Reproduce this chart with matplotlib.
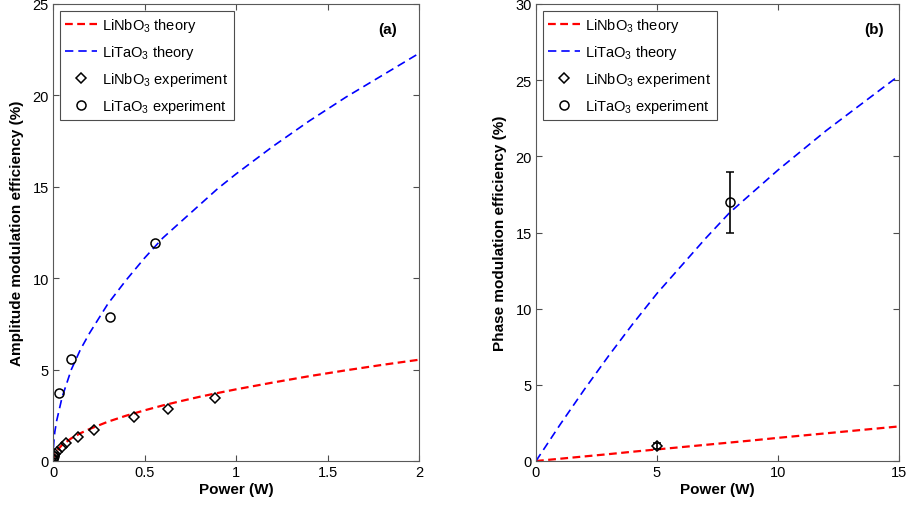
import numpy as np
import matplotlib
matplotlib.use('Agg')
import matplotlib.pyplot as plt

plt.rcParams['font.family'] = ['Liberation Sans', 'DejaVu Sans']
plt.rcParams['mathtext.default'] = 'regular'
plt.rcParams['font.size'] = 10

# (a) amplitude modulation - theory curves
amp_power = [0, 0.001, 0.005, 0.01, 0.02, 0.05, 0.1, 0.15, 0.2, 0.3, 0.4, 0.5, 0.6, 0.7,
             0.8, 0.9, 1.0, 1.2, 1.4, 1.6, 1.8, 2.0]
amp_linbo3 = [0, 0.12, 0.28, 0.39, 0.55, 0.88, 1.24, 1.52, 1.75, 2.15, 2.48, 2.77, 3.04, 3.28,
              3.51, 3.72, 3.92, 4.29, 4.64, 4.96, 5.26, 5.54]
amp_litao3 = [0, 0.5, 1.1, 1.6, 2.2, 3.5, 5.0, 6.1, 7.0, 8.6, 9.9, 11.1, 12.2, 13.1,
              14.0, 14.9, 15.7, 17.2, 18.6, 19.9, 21.1, 22.3]

# (a) experiment
amp_exp_nb_p = [0.002, 0.006, 0.012, 0.020, 0.047, 0.071, 0.138, 0.224, 0.443, 0.627, 0.885]
amp_exp_nb_v = [0.1, 0.25, 0.4, 0.48, 0.75, 0.97, 1.33, 1.70, 2.39, 2.84, 3.47]
amp_exp_ta_p = [0.001, 0.003, 0.033, 0.098, 0.31, 0.557]
amp_exp_ta_v = [0.1, 0.25, 3.7, 5.6, 7.9, 11.9]

# (b) phase modulation - theory curves
ph_power = [0, 1, 2, 3, 4, 5, 6, 7, 8, 9, 10, 11, 12, 13, 14, 15]
ph_linbo3 = [0, 0.15, 0.30, 0.45, 0.61, 0.76, 0.91, 1.06, 1.21, 1.36, 1.52, 1.67, 1.82, 1.97, 2.12, 2.27]
ph_litao3 = [0, 2.4, 4.7, 6.9, 9.0, 11.0, 12.8, 14.6, 16.3, 17.7, 19.1, 20.4, 21.7, 22.9, 24.1, 25.3]

# (b) experiment
ph_exp_nb_p = [5]
ph_exp_nb_v = [1.0]
ph_exp_nb_err = [0.2]
ph_exp_ta_p = [8]
ph_exp_ta_v = [17.0]
ph_exp_ta_err = [2.0]

labels = ['LiNbO$_3$ theory', 'LiTaO$_3$ theory', 'LiNbO$_3$ experiment', 'LiTaO$_3$ experiment']

fig = plt.figure(figsize=(9.08, 5.06), dpi=100)
ax1 = fig.add_axes([53/908, 44/506, 366/908, 457/506])
ax2 = fig.add_axes([536/908, 44/506, 363/908, 457/506])

def style(ax):
    ax.tick_params(direction='in', top=True, right=True, length=4, width=0.8,
                   color='0.3', labelsize=10.5, pad=3)
    for s in ax.spines.values():
        s.set_color('0.35')
        s.set_linewidth(0.8)

# left panel
ax1.plot(amp_power, amp_linbo3, color='red', ls=(0, (3.5, 2)), lw=1.6, label=labels[0])
ax1.plot(amp_power, amp_litao3, color='blue', ls=(0, (5, 3)), lw=1.2, label=labels[1])
ax1.plot(amp_exp_nb_p, amp_exp_nb_v, 'D', ms=5.5, mfc='none', mec='black', mew=1.1, label=labels[2])
ax1.plot(amp_exp_ta_p, amp_exp_ta_v, 'o', ms=6.5, mfc='none', mec='black', mew=1.1, label=labels[3])
ax1.set_xlim(0, 2)
ax1.set_ylim(0, 25)
ax1.set_xticks([0, 0.5, 1, 1.5, 2])
ax1.set_xticklabels(['0', '0.5', '1', '1.5', '2'])
ax1.set_yticks([0, 5, 10, 15, 20, 25])
ax1.set_xlabel('Power (W)', fontweight='bold', fontsize=11, labelpad=2)
ax1.set_ylabel('Amplitude modulation efficiency (%)', fontweight='bold', fontsize=11, labelpad=6)
ax1.text(0.915, 0.945, '(a)', transform=ax1.transAxes, fontweight='bold', fontsize=11,
         ha='center', va='center')
style(ax1)

# right panel
ax2.plot(ph_power, ph_linbo3, color='red', ls=(0, (3.5, 2)), lw=1.6, label=labels[0])
ax2.plot(ph_power, ph_litao3, color='blue', ls=(0, (5, 3)), lw=1.2, label=labels[1])
ax2.errorbar(ph_exp_nb_p, ph_exp_nb_v, yerr=ph_exp_nb_err, fmt='D', ms=5.5, mfc='none',
             mec='black', mew=1.1, ecolor='black', elinewidth=1.2, capsize=3, label=labels[2])
ax2.errorbar(ph_exp_ta_p, ph_exp_ta_v, yerr=ph_exp_ta_err, fmt='o', ms=6.5, mfc='none',
             mec='black', mew=1.1, ecolor='black', elinewidth=1.2, capsize=3, label=labels[3])
ax2.set_xlim(0, 15)
ax2.set_ylim(0, 30)
ax2.set_xticks([0, 5, 10, 15])
ax2.set_yticks([0, 5, 10, 15, 20, 25, 30])
ax2.set_xlabel('Power (W)', fontweight='bold', fontsize=11, labelpad=2)
ax2.set_ylabel('Phase modulation efficiency (%)', fontweight='bold', fontsize=11, labelpad=6)
ax2.text(0.93, 0.945, '(b)', transform=ax2.transAxes, fontweight='bold', fontsize=11,
         ha='center', va='center')
style(ax2)

for ax in (ax1, ax2):
    h, l = ax.get_legend_handles_labels()
    # errorbar containers -> keep only the marker line for the legend
    h = [hh[0] if hasattr(hh, 'has_yerr') else hh for hh in h]
    leg = ax.legend(h, l, loc='upper left', fancybox=False, framealpha=1, edgecolor='0.3',
                    fontsize=10.5, handlelength=2.2, handletextpad=0.3, labelspacing=0.6,
                    borderpad=0.4, borderaxespad=0.45)
    leg.get_frame().set_linewidth(0.8)

fig.savefig('out.png', dpi=100)
